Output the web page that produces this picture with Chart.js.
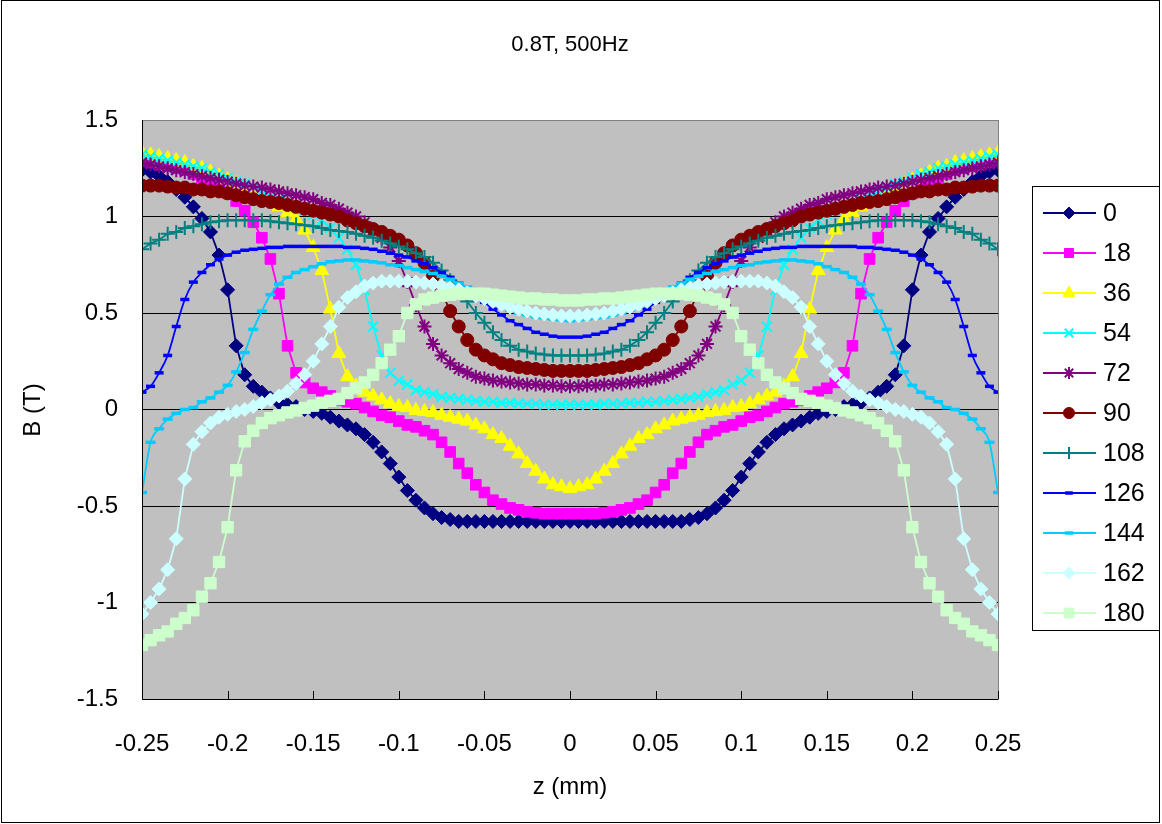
<!DOCTYPE html>
<html>
<head>
<meta charset="utf-8">
<script src="https://cdn.jsdelivr.net/npm/chart.js@4.4.1/dist/chart.umd.min.js"></script>
<style>
  html, body { margin: 0; padding: 0; background: #fff; }
  canvas { display: block; }
</style>
</head>
<body>
<canvas id="chart" width="1162" height="824"></canvas>
<script>
const titleText = "0.8T, 500Hz";
const xTitle = "z (mm)";
const yTitle = "B (T)";

const xTicks = [-0.25, -0.2, -0.15, -0.1, -0.05, 0, 0.05, 0.1, 0.15, 0.2, 0.25];
const xTickLabels = ["-0.25", "-0.2", "-0.15", "-0.1", "-0.05", "0", "0.05", "0.1", "0.15", "0.2", "0.25"];
const yTicks = [-1.5, -1, -0.5, 0, 0.5, 1, 1.5];
const yTickLabels = ["-1.5", "-1", "-0.5", "0", "0.5", "1", "1.5"];

const seriesNames = ["0", "18", "36", "54", "72", "90", "108", "126", "144", "162", "180"];

// z positions (mm)
const z = [
  -0.25, -0.245, -0.24, -0.235, -0.23, -0.225, -0.22, -0.215, -0.21, -0.205,
  -0.2, -0.195, -0.19, -0.185, -0.18, -0.175, -0.17, -0.165, -0.16, -0.155,
  -0.15, -0.145, -0.14, -0.135, -0.13, -0.125, -0.12, -0.115, -0.11, -0.105,
  -0.1, -0.095, -0.09, -0.085, -0.08, -0.075, -0.07, -0.065, -0.06, -0.055,
  -0.05, -0.045, -0.04, -0.035, -0.03, -0.025, -0.02, -0.015, -0.01, -0.005,
  0,
  0.005, 0.01, 0.015, 0.02, 0.025, 0.03, 0.035, 0.04, 0.045, 0.05,
  0.055, 0.06, 0.065, 0.07, 0.075, 0.08, 0.085, 0.09, 0.095, 0.1,
  0.105, 0.11, 0.115, 0.12, 0.125, 0.13, 0.135, 0.14, 0.145, 0.15,
  0.155, 0.16, 0.165, 0.17, 0.175, 0.18, 0.185, 0.19, 0.195, 0.2,
  0.205, 0.21, 0.215, 0.22, 0.225, 0.23, 0.235, 0.24, 0.245, 0.25
];

const b0 = [
  1.24, 1.23, 1.21, 1.18, 1.14, 1.10, 1.05, 0.99, 0.92, 0.80,
  0.62, 0.33, 0.18, 0.12, 0.09, 0.06, 0.035, 0.025, 0.015, 0,
  -0.01, -0.02, -0.04, -0.06, -0.08, -0.10, -0.13, -0.17, -0.22, -0.28,
  -0.35, -0.42, -0.47, -0.51, -0.54, -0.56, -0.57, -0.58, -0.58, -0.58,
  -0.58, -0.58, -0.58, -0.58, -0.58, -0.58, -0.58, -0.58, -0.58, -0.58, -0.58,
  -0.58, -0.58, -0.58, -0.58, -0.58, -0.58, -0.58, -0.58, -0.58, -0.58,
  -0.58, -0.58, -0.58, -0.57, -0.56, -0.54, -0.51, -0.47, -0.42, -0.35,
  -0.28, -0.22, -0.17, -0.13, -0.10, -0.08, -0.06, -0.04, -0.02, -0.01,
  0, 0.015, 0.025, 0.035, 0.06, 0.09, 0.12, 0.18, 0.33, 0.62,
  0.80, 0.92, 0.99, 1.05, 1.10, 1.14, 1.18, 1.21, 1.23, 1.24
];
const b18 = [
  1.29, 1.28, 1.27, 1.26, 1.25, 1.24, 1.22, 1.20, 1.18, 1.15,
  1.12, 1.08, 1.03, 0.97, 0.89, 0.78, 0.60, 0.33, 0.19, 0.14,
  0.11, 0.09, 0.07, 0.05, 0.04, 0.03, 0.01, -0.01, -0.03, -0.04,
  -0.06, -0.08, -0.09, -0.11, -0.13, -0.17, -0.22, -0.28, -0.33, -0.39,
  -0.43, -0.47, -0.49, -0.51, -0.52, -0.53, -0.535, -0.54, -0.54, -0.54, -0.54,
  -0.54, -0.54, -0.54, -0.535, -0.53, -0.52, -0.51, -0.49, -0.47, -0.43,
  -0.39, -0.33, -0.28, -0.22, -0.17, -0.13, -0.11, -0.09, -0.08, -0.06,
  -0.04, -0.03, -0.01, 0.01, 0.03, 0.04, 0.05, 0.07, 0.09, 0.11,
  0.14, 0.19, 0.33, 0.60, 0.78, 0.89, 0.97, 1.03, 1.08, 1.12,
  1.15, 1.18, 1.20, 1.22, 1.24, 1.25, 1.26, 1.27, 1.28, 1.29
];
const b36 = [
  1.33, 1.32, 1.31, 1.30, 1.29, 1.28, 1.26, 1.25, 1.23, 1.21,
  1.19, 1.17, 1.15, 1.12, 1.10, 1.07, 1.05, 1.02, 0.985, 0.93,
  0.84, 0.72, 0.52, 0.29, 0.17, 0.12, 0.09, 0.07, 0.05, 0.03,
  0.015, 0.01, -0.005, -0.01, -0.015, -0.03, -0.04, -0.05, -0.06, -0.08,
  -0.10, -0.13, -0.15, -0.19, -0.23, -0.28, -0.32, -0.36, -0.39, -0.40, -0.41,
  -0.40, -0.39, -0.36, -0.32, -0.28, -0.23, -0.19, -0.15, -0.13, -0.10,
  -0.08, -0.06, -0.05, -0.04, -0.03, -0.015, -0.01, -0.005, 0.01, 0.015,
  0.03, 0.05, 0.07, 0.09, 0.12, 0.17, 0.29, 0.52, 0.72, 0.84,
  0.93, 0.985, 1.02, 1.05, 1.07, 1.10, 1.12, 1.15, 1.17, 1.19,
  1.21, 1.23, 1.25, 1.26, 1.28, 1.29, 1.30, 1.31, 1.32, 1.33
];
const b54 = [
  1.32, 1.31, 1.30, 1.29, 1.28, 1.27, 1.26, 1.25, 1.23, 1.22,
  1.20, 1.18, 1.17, 1.15, 1.13, 1.11, 1.09, 1.07, 1.05, 1.03,
  1.01, 0.98, 0.94, 0.89, 0.83, 0.75, 0.62, 0.43, 0.28, 0.19,
  0.15, 0.13, 0.10, 0.09, 0.08, 0.065, 0.06, 0.055, 0.05, 0.045,
  0.04, 0.04, 0.035, 0.035, 0.03, 0.03, 0.03, 0.025, 0.025, 0.025, 0.025,
  0.025, 0.025, 0.025, 0.03, 0.03, 0.03, 0.035, 0.035, 0.04, 0.04,
  0.045, 0.05, 0.055, 0.06, 0.065, 0.08, 0.09, 0.10, 0.13, 0.15,
  0.19, 0.28, 0.43, 0.62, 0.75, 0.83, 0.89, 0.94, 0.98, 1.01,
  1.03, 1.05, 1.07, 1.09, 1.11, 1.13, 1.15, 1.17, 1.18, 1.20,
  1.22, 1.23, 1.25, 1.26, 1.27, 1.28, 1.29, 1.30, 1.31, 1.32
];
const b72 = [
  1.28, 1.27, 1.26, 1.25, 1.24, 1.23, 1.22, 1.21, 1.20, 1.19,
  1.18, 1.17, 1.16, 1.155, 1.15, 1.14, 1.13, 1.12, 1.11, 1.10,
  1.09, 1.07, 1.06, 1.04, 1.02, 1.00, 0.97, 0.93, 0.89, 0.84,
  0.77, 0.66, 0.54, 0.43, 0.34, 0.28, 0.24, 0.21, 0.19, 0.17,
  0.16, 0.15, 0.145, 0.14, 0.135, 0.13, 0.13, 0.125, 0.125, 0.12, 0.12,
  0.12, 0.125, 0.125, 0.13, 0.13, 0.135, 0.14, 0.145, 0.15, 0.16,
  0.17, 0.19, 0.21, 0.24, 0.28, 0.34, 0.43, 0.54, 0.66, 0.77,
  0.84, 0.89, 0.93, 0.97, 1.00, 1.02, 1.04, 1.06, 1.07, 1.09,
  1.10, 1.11, 1.12, 1.13, 1.14, 1.15, 1.155, 1.16, 1.17, 1.18,
  1.19, 1.20, 1.21, 1.22, 1.23, 1.24, 1.25, 1.26, 1.27, 1.28
];
const b90 = [
  1.16, 1.16, 1.16, 1.155, 1.15, 1.15, 1.14, 1.14, 1.13, 1.13,
  1.12, 1.11, 1.10, 1.09, 1.08, 1.075, 1.07, 1.06, 1.05, 1.04,
  1.03, 1.02, 1.01, 1.00, 0.98, 0.965, 0.95, 0.935, 0.92, 0.90,
  0.88, 0.85, 0.81, 0.76, 0.69, 0.61, 0.51, 0.43, 0.36, 0.31,
  0.28, 0.26, 0.24, 0.23, 0.22, 0.215, 0.21, 0.205, 0.20, 0.20, 0.20,
  0.20, 0.20, 0.205, 0.21, 0.215, 0.22, 0.23, 0.24, 0.26, 0.28,
  0.31, 0.36, 0.43, 0.51, 0.61, 0.69, 0.76, 0.81, 0.85, 0.88,
  0.90, 0.92, 0.935, 0.95, 0.965, 0.98, 1.00, 1.01, 1.02, 1.03,
  1.04, 1.05, 1.06, 1.07, 1.075, 1.08, 1.09, 1.10, 1.11, 1.12,
  1.13, 1.13, 1.14, 1.14, 1.15, 1.15, 1.155, 1.16, 1.16, 1.16
];
const b108 = [
  0.83, 0.86, 0.88, 0.91, 0.92, 0.94, 0.95, 0.96, 0.97, 0.975,
  0.98, 0.98, 0.98, 0.98, 0.98, 0.975, 0.97, 0.965, 0.96, 0.955,
  0.95, 0.94, 0.93, 0.925, 0.92, 0.91, 0.90, 0.89, 0.875, 0.86,
  0.845, 0.83, 0.81, 0.79, 0.76, 0.72, 0.67, 0.62, 0.56, 0.50,
  0.45, 0.40, 0.36, 0.33, 0.31, 0.30, 0.29, 0.285, 0.28, 0.28, 0.28,
  0.28, 0.28, 0.285, 0.29, 0.30, 0.31, 0.33, 0.36, 0.40, 0.45,
  0.50, 0.56, 0.62, 0.67, 0.72, 0.76, 0.79, 0.81, 0.83, 0.845,
  0.86, 0.875, 0.89, 0.90, 0.91, 0.92, 0.925, 0.93, 0.94, 0.95,
  0.955, 0.96, 0.965, 0.97, 0.975, 0.98, 0.98, 0.98, 0.98, 0.98,
  0.975, 0.97, 0.96, 0.95, 0.94, 0.92, 0.91, 0.88, 0.86, 0.83
];
const b126 = [
  0.09, 0.12, 0.19, 0.28, 0.43, 0.57, 0.66, 0.71, 0.75, 0.78,
  0.80, 0.815, 0.825, 0.83, 0.835, 0.84, 0.84, 0.845, 0.845, 0.845,
  0.845, 0.845, 0.845, 0.845, 0.84, 0.84, 0.835, 0.83, 0.82, 0.81,
  0.80, 0.79, 0.77, 0.755, 0.735, 0.71, 0.685, 0.655, 0.625, 0.59,
  0.555, 0.52, 0.49, 0.46, 0.44, 0.42, 0.40, 0.39, 0.38, 0.375, 0.375,
  0.375, 0.38, 0.39, 0.40, 0.42, 0.44, 0.46, 0.49, 0.52, 0.555,
  0.59, 0.625, 0.655, 0.685, 0.71, 0.735, 0.755, 0.77, 0.79, 0.80,
  0.81, 0.82, 0.83, 0.835, 0.84, 0.84, 0.845, 0.845, 0.845, 0.845,
  0.845, 0.845, 0.845, 0.84, 0.84, 0.835, 0.83, 0.825, 0.815, 0.80,
  0.78, 0.75, 0.71, 0.66, 0.57, 0.43, 0.28, 0.19, 0.12, 0.09
];
const b144 = [
  -0.43, -0.17, -0.10, -0.05, -0.02, 0.00, 0.01, 0.04, 0.06, 0.09,
  0.125, 0.195, 0.295, 0.415, 0.51, 0.595, 0.65, 0.685, 0.71, 0.725,
  0.74, 0.755, 0.765, 0.77, 0.775, 0.775, 0.77, 0.765, 0.76, 0.75,
  0.745, 0.735, 0.725, 0.715, 0.705, 0.69, 0.675, 0.655, 0.635, 0.61,
  0.585, 0.56, 0.535, 0.515, 0.50, 0.49, 0.48, 0.475, 0.47, 0.465, 0.46,
  0.465, 0.47, 0.475, 0.48, 0.49, 0.50, 0.515, 0.535, 0.56, 0.585,
  0.61, 0.635, 0.655, 0.675, 0.69, 0.705, 0.715, 0.725, 0.735, 0.745,
  0.75, 0.76, 0.765, 0.77, 0.775, 0.775, 0.77, 0.765, 0.755, 0.74,
  0.725, 0.71, 0.685, 0.65, 0.595, 0.51, 0.415, 0.295, 0.195, 0.125,
  0.09, 0.06, 0.04, 0.01, 0.00, -0.02, -0.05, -0.10, -0.17, -0.43
];
const b162 = [
  -1.06, -1.00, -0.93, -0.83, -0.67, -0.36, -0.18, -0.115, -0.07, -0.04,
  -0.025, -0.01, 0.00, 0.015, 0.035, 0.05, 0.07, 0.095, 0.135, 0.18,
  0.25, 0.34, 0.43, 0.53, 0.58, 0.61, 0.64, 0.655, 0.665, 0.665,
  0.665, 0.665, 0.66, 0.655, 0.65, 0.64, 0.63, 0.62, 0.605, 0.59,
  0.575, 0.56, 0.545, 0.53, 0.52, 0.51, 0.50, 0.495, 0.49, 0.485, 0.485,
  0.485, 0.49, 0.495, 0.50, 0.51, 0.52, 0.53, 0.545, 0.56, 0.575,
  0.59, 0.605, 0.62, 0.63, 0.64, 0.65, 0.655, 0.66, 0.665, 0.665,
  0.665, 0.665, 0.655, 0.64, 0.61, 0.58, 0.53, 0.43, 0.34, 0.25,
  0.18, 0.135, 0.095, 0.07, 0.05, 0.035, 0.015, 0.00, -0.01, -0.025,
  -0.04, -0.07, -0.115, -0.18, -0.36, -0.67, -0.83, -0.93, -1.00, -1.06
];
const b180 = [
  -1.22, -1.195, -1.17, -1.15, -1.11, -1.08, -1.04, -0.97, -0.90, -0.79,
  -0.61, -0.315, -0.165, -0.11, -0.07, -0.045, -0.03, -0.015, -0.005, 0.008,
  0.02, 0.035, 0.045, 0.055, 0.085, 0.11, 0.14, 0.18, 0.24, 0.31,
  0.38, 0.50, 0.545, 0.57, 0.58, 0.59, 0.595, 0.60, 0.60, 0.60,
  0.60, 0.595, 0.59, 0.585, 0.58, 0.575, 0.575, 0.57, 0.57, 0.565, 0.565,
  0.565, 0.57, 0.57, 0.575, 0.575, 0.58, 0.585, 0.59, 0.595, 0.60,
  0.60, 0.60, 0.60, 0.595, 0.59, 0.58, 0.57, 0.545, 0.50, 0.38,
  0.31, 0.24, 0.18, 0.14, 0.11, 0.085, 0.055, 0.045, 0.035, 0.02,
  0.008, -0.005, -0.015, -0.03, -0.045, -0.07, -0.11, -0.165, -0.315, -0.61,
  -0.79, -0.90, -0.97, -1.04, -1.08, -1.11, -1.15, -1.17, -1.195, -1.22
];

const seriesValues = [b0, b18, b36, b54, b72, b90, b108, b126, b144, b162, b180];

const styles = [
  { color: '#000080', point: 'rectRot', r: 7, pw: 1 },
  { color: '#FF00FF', point: 'rect', r: 7.5, pw: 1 },
  { color: '#FFFF00', point: 'triangle', r: 8, pw: 1 },
  { color: '#00FFFF', point: 'crossRot', r: 7, pw: 2 },
  { color: '#800080', point: 'star', r: 7, pw: 2 },
  { color: '#800000', point: 'circle', r: 6.5, pw: 1 },
  { color: '#008080', point: 'cross', r: 7, pw: 2 },
  { color: '#0000FF', point: 'line', r: 4.5, pw: 3.5, smooth: true },
  { color: '#00CCFF', point: 'line', r: 5, pw: 3.5, smooth: true },
  { color: '#CCFFFF', point: 'rectRot', r: 7, pw: 1 },
  { color: '#CCFFCC', point: 'rect', r: 8, pw: 1 }
];

const FONT = "'Liberation Sans', Arial, sans-serif";

const datasets = seriesNames.map((name, i) => ({
  label: name,
  data: z.map((zz, k) => ({ x: zz, y: seriesValues[i][k] })),
  borderColor: styles[i].color,
  backgroundColor: styles[i].color,
  borderWidth: 1.8,
  pointStyle: styles[i].point,
  pointRadius: styles[i].r,
  pointBorderWidth: styles[i].pw,
  pointBackgroundColor: styles[i].color,
  pointBorderColor: styles[i].color,
  cubicInterpolationMode: styles[i].smooth ? 'monotone' : 'default',
  order: seriesNames.length - i
}));

function drawMarker(ctx, st, x, y) {
  ctx.save();
  ctx.fillStyle = st.color;
  ctx.strokeStyle = st.color;
  ctx.lineWidth = st.pw;
  if (Chart.helpers && Chart.helpers.drawPoint) {
    Chart.helpers.drawPoint(ctx, { pointStyle: st.point, radius: st.r * 0.85, rotation: 0, borderWidth: st.pw }, x, y);
  } else {
    ctx.beginPath();
    ctx.arc(x, y, st.r, 0, Math.PI * 2);
    ctx.fill();
  }
  ctx.restore();
}

const decor = {
  id: 'decor',
  beforeDraw(chart) {
    const { ctx, chartArea: a } = chart;
    ctx.save();
    ctx.fillStyle = '#ffffff';
    ctx.fillRect(0, 0, chart.width, chart.height);
    ctx.fillStyle = '#C0C0C0';
    ctx.fillRect(a.left, a.top, a.right - a.left, a.bottom - a.top);
    ctx.restore();
  },
  afterDraw(chart) {
    const { ctx, chartArea: a } = chart;
    const xs = chart.scales.x;
    ctx.save();
    // plot border
    ctx.strokeStyle = '#808080';
    ctx.lineWidth = 1;
    ctx.strokeRect(a.left + 0.5, a.top + 0.5, a.right - a.left, a.bottom - a.top);
    ctx.strokeStyle = '#000';
    ctx.beginPath();
    ctx.moveTo(a.left + 0.5, a.top);
    ctx.lineTo(a.left + 0.5, a.bottom + 0.5);
    ctx.lineTo(a.right, a.bottom + 0.5);
    ctx.stroke();
    // inside tick marks on the x axis
    ctx.beginPath();
    xTicks.forEach(v => {
      const px = Math.round(xs.getPixelForValue(v)) + 0.5;
      ctx.moveTo(px, a.bottom);
      ctx.lineTo(px, a.bottom - 8);
    });
    ctx.stroke();
    // outer frame
    ctx.strokeRect(1.5, 0.5, 1158, 822);
    // title and axis titles
    ctx.fillStyle = '#000';
    ctx.font = '22px ' + FONT;
    ctx.textAlign = 'center';
    ctx.textBaseline = 'middle';
    ctx.fillText(titleText, 570, 45);
    ctx.font = '24px ' + FONT;
    ctx.fillText(xTitle, 570, 787);
    ctx.save();
    ctx.translate(33, 410);
    ctx.rotate(-Math.PI / 2);
    ctx.fillText(yTitle, 0, 0);
    ctx.restore();
    // legend
    ctx.fillStyle = '#fff';
    ctx.fillRect(1032, 186, 127, 444);
    ctx.strokeStyle = '#000';
    ctx.strokeRect(1032.5, 186.5, 127, 444);
    ctx.font = '25px ' + FONT;
    ctx.textAlign = 'left';
    seriesNames.forEach((name, i) => {
      const y = 213 + i * 40;
      ctx.strokeStyle = styles[i].color;
      ctx.lineWidth = 2;
      ctx.beginPath();
      ctx.moveTo(1043, y);
      ctx.lineTo(1096, y);
      ctx.stroke();
      drawMarker(ctx, styles[i], 1069, y);
      ctx.fillStyle = '#000';
      ctx.fillText(name, 1103, y + 1);
    });
    ctx.restore();
  }
};

new Chart(document.getElementById('chart'), {
  type: 'line',
  data: { datasets },
  options: {
    responsive: false,
    animation: false,
    devicePixelRatio: 1,
    layout: { padding: { left: 0, right: 164, top: 120, bottom: 0 } },
    plugins: {
      legend: { display: false },
      title: { display: false },
      tooltip: { enabled: false }
    },
    scales: {
      x: {
        type: 'linear',
        min: -0.25,
        max: 0.25,
        afterBuildTicks: s => { s.ticks = xTicks.map(v => ({ value: v })); },
        afterFit: s => { s.height = 125; },
        grid: { drawOnChartArea: false, drawTicks: false },
        border: { display: false },
        ticks: {
          padding: 31,
          color: '#000',
          maxRotation: 0,
          autoSkip: false,
          font: { family: FONT, size: 24 },
          callback: (v, i) => xTickLabels[i]
        }
      },
      y: {
        type: 'linear',
        min: -1.5,
        max: 1.5,
        afterBuildTicks: s => { s.ticks = yTicks.map(v => ({ value: v })); },
        afterFit: s => { s.width = 142; },
        grid: { color: '#000', drawTicks: false, lineWidth: 1 },
        border: { display: false },
        ticks: {
          padding: 24,
          color: '#000',
          autoSkip: false,
          font: { family: FONT, size: 24 },
          callback: (v, i) => yTickLabels[i]
        }
      }
    }
  },
  plugins: [decor]
});
</script>
</body>
</html>
